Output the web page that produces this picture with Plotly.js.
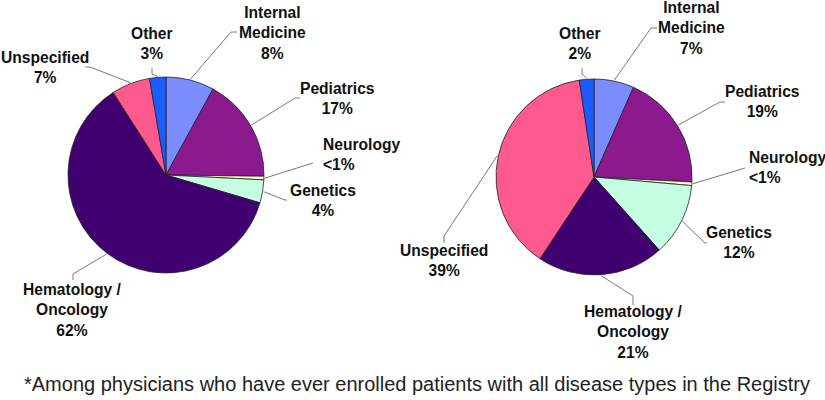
<!DOCTYPE html>
<html>
<head>
<meta charset="utf-8">
<script src="https://cdn.plot.ly/plotly-3.0.1.min.js"></script>
<style>html,body{margin:0;padding:0;background:#fff;}#chart{width:825px;height:400px;}</style>
</head>
<body>
<div id="chart"></div>
<script>
// ---- data ----
const categories = ['Internal Medicine', 'Pediatrics', 'Neurology', 'Genetics', 'Hematology / Oncology', 'Unspecified', 'Other'];
const labelNames = ['Internal<br>Medicine', 'Pediatrics', 'Neurology', 'Genetics', 'Hematology /<br>Oncology', 'Unspecified', 'Other'];
const leftValues = [8, 17.3, 0.6, 3.8, 61.6, 6.4, 2.7];
const rightValues = [6.6, 19.2, 0.6, 12, 20.9, 38.3, 2.4];
const leftPctLabels = ['8%', '17%', '<1%', '4%', '62%', '7%', '3%'];
const rightPctLabels = ['7%', '19%', '<1%', '12%', '21%', '39%', '2%'];
const sliceColors = ['#7b8cff', '#8a1a8e', '#ffffc0', '#c4ffe4', '#400070', '#ff5a8e', '#1a5cff'];
const caption = '*Among physicians who have ever enrolled patients with all disease types in the Registry';

// ---- layout constants (pixels) ----
const W = 825, H = 400;
const px = x => x / W, py = y => 1 - y / H;
const pies = [
  {cx: 166, cy: 175, r: 98, values: leftValues, pct: leftPctLabels,
   // label x, label y (middle), anchor, elbow x, elbow y, end x, end y
   place: [
     [272, 33, 'center', 231, 32, 237, 32],
     [337, 98, 'center', 295, 98, 300, 98],
     [321, 155, 'left', 313, 163, 313, 163],
     [323, 200.5, 'center', 285, 200, 287, 200],
     [72, 310, 'center', 73, 274, 73, 280],
     [45, 67, 'center', 90, 67, 85, 67],
     [152, 44, 'center', 152, 74, 152, 68]
   ]},
  {cx: 594, cy: 177, r: 98, values: rightValues, pct: rightPctLabels,
   place: [
     [691, 28, 'center', 651, 28, 657, 28],
     [762, 101.5, 'center', 720, 102, 725, 102],
     [747, 168, 'left', 745, 168, 745, 168],
     [739, 242, 'center', 705, 243, 707, 243],
     [633, 332, 'center', 633, 296, 633, 305],
     [444, 260.5, 'center', 444, 236, 444, 243],
     [580, 44, 'center', 582, 74, 582, 68]
   ]}
];

const traces = [];
const annotations = [];
const shapes = [];
const labelFont = {family: 'Liberation Sans, Arial, sans-serif', size: 15.6, color: '#111', weight: 'bold'};

pies.forEach(p => {
  traces.push({
    type: 'pie',
    labels: categories,
    values: p.values,
    sort: false,
    direction: 'clockwise',
    rotation: 0,
    textinfo: 'none',
    hoverinfo: 'label+percent',
    showlegend: false,
    marker: {colors: sliceColors, line: {color: '#222', width: 0.8}},
    domain: {x: [px(p.cx - p.r), px(p.cx + p.r)], y: [py(p.cy + p.r), py(p.cy - p.r)]}
  });
  const total = p.values.reduce((a, b) => a + b, 0);
  let cum = 0;
  p.values.forEach((v, i) => {
    const mid = (cum + v / 2) / total * 2 * Math.PI;
    cum += v;
    const sx = p.cx + (p.r + 1) * Math.sin(mid);
    const sy = p.cy - (p.r + 1) * Math.cos(mid);
    const pl = p.place[i];
    shapes.push({
      type: 'path', xref: 'paper', yref: 'paper',
      path: `M ${px(sx)} ${py(sy)} L ${px(pl[3])} ${py(pl[4])} L ${px(pl[5])} ${py(pl[6])}`,
      line: {color: '#555', width: 0.8}
    });
    annotations.push({
      xref: 'paper', yref: 'paper', x: px(pl[0]), y: py(pl[1]),
      xanchor: pl[2], yanchor: 'middle', align: pl[2],
      text: labelNames[i] + '<br>' + p.pct[i],
      showarrow: false, font: labelFont
    });
  });
});

annotations.push({
  xref: 'paper', yref: 'paper', x: px(416.5), y: py(384),
  xanchor: 'center', yanchor: 'middle',
  text: caption, showarrow: false,
  font: {family: 'Liberation Sans, Arial, sans-serif', size: 20, color: '#222'}
});

const layout = {
  width: W, height: H,
  margin: {l: 0, r: 0, t: 0, b: 0},
  paper_bgcolor: '#fff',
  annotations: annotations,
  shapes: shapes
};
Plotly.newPlot('chart', traces, layout, {displayModeBar: false, staticPlot: true});
</script>
</body>
</html>
